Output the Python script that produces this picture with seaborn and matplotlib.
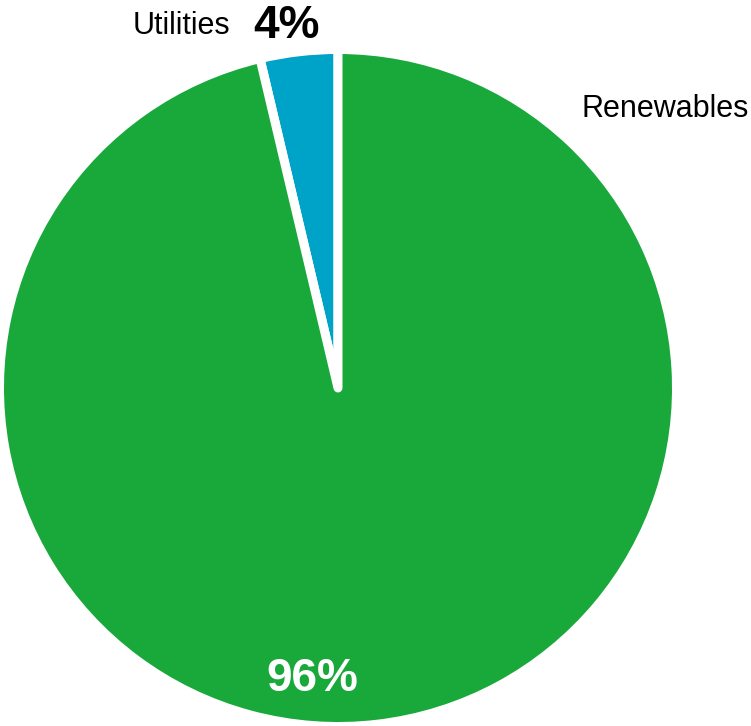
import matplotlib
matplotlib.use("Agg")
import matplotlib.pyplot as plt
import seaborn as sns

categories = ["Utilities", "Renewables"]
shares = [3.7, 96.3]
colors = ["#00A3C8", "#19A83A"]

sns.set_theme(style="white")
plt.rcParams["font.family"] = ["Liberation Sans", "DejaVu Sans"]

W, H = 751, 726
fig = plt.figure(figsize=(W / 100, H / 100), dpi=100)
ax = fig.add_axes([0, 0, 1, 1])

cx, cy, R = 338, 388, 334  # pixel geometry of the pie (from top-left)
def px(x, y):
    return (x - cx) / R, (cy - y) / R

lw_px = 9
ax.pie(shares, colors=colors, startangle=90, counterclock=True,
       radius=1 + (lw_px / 2) / R,
       wedgeprops=dict(edgecolor="white", linewidth=lw_px * 0.72, joinstyle="round"))
ax.set_xlim((0 - cx) / R, (W - cx) / R)
ax.set_ylim((cy - H) / R, cy / R)
ax.set_aspect("auto")
ax.axis("off")

labels = [f"{v:.0f}%" for v in shares]

x, y = px(133, 34)
ax.text(x, y, categories[0], fontsize=22, color="black", ha="left", va="baseline")
x, y = px(253, 38)
ax.text(x, y, labels[0], fontsize=33, fontweight="bold", color="black", ha="left", va="baseline")
x, y = px(581, 117)
ax.text(x, y, categories[1], fontsize=22, color="black", ha="left", va="baseline")
x, y = px(266, 691)
ax.text(x, y, labels[1], fontsize=33, fontweight="bold", color="white", ha="left", va="baseline")

fig.savefig("out.png", dpi=100, facecolor="white")
